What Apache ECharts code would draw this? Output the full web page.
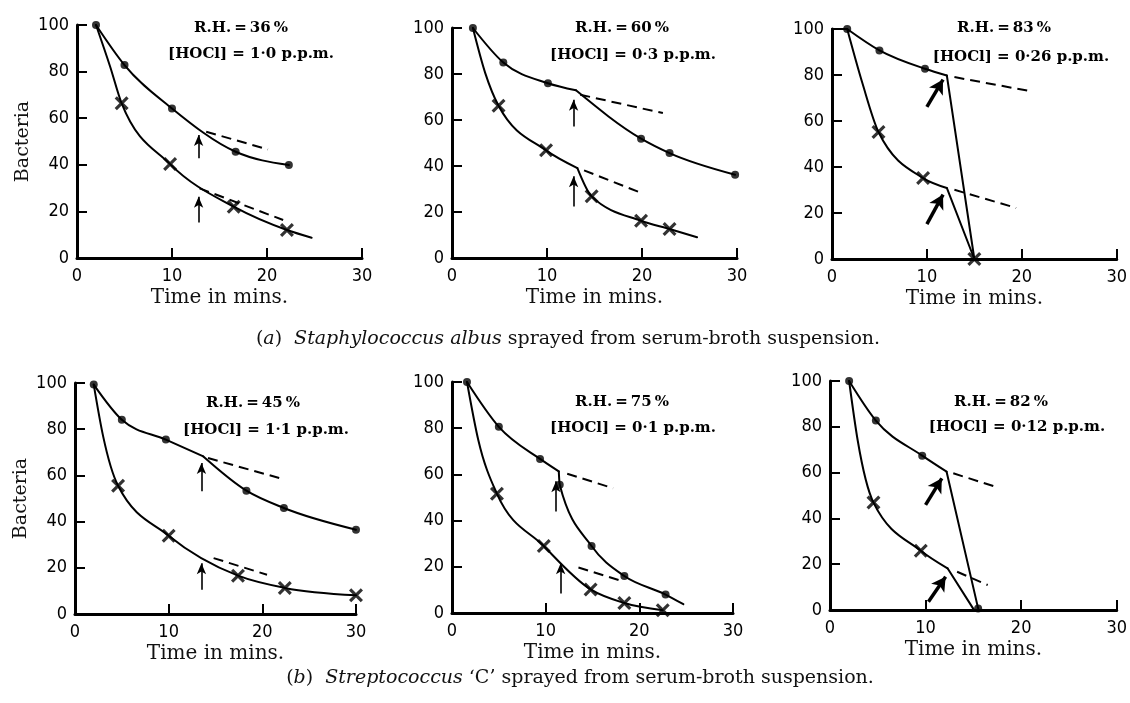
<!DOCTYPE html>
<html><head><meta charset="utf-8">
<script src="https://cdn.jsdelivr.net/npm/echarts@6/dist/echarts.min.js"></script>
<style>html,body{margin:0;padding:0;background:#fff}#c{width:1130px;height:703px}</style>
</head><body><div id="c"></div>
<script>
// ================= DATA =================
const xMin = 0, xMax = 30, xStep = 10;
const yMin = 0, yMax = 100, yStep = 20;
const xAxisTitle = 'Time in mins.';
const yAxisTitle = 'Bacteria';
const rhLabels = ['R.H.\u2009=\u200936\u2009%', 'R.H.\u2009=\u200960\u2009%', 'R.H.\u2009=\u200983\u2009%',
                  'R.H.\u2009=\u200945\u2009%', 'R.H.\u2009=\u200975\u2009%', 'R.H.\u2009=\u200982\u2009%'];
const hoclLabels = ['[HOCl] = 1·0 p.p.m.', '[HOCl] = 0·3 p.p.m.', '[HOCl] = 0·26 p.p.m.',
                    '[HOCl] = 1·1 p.p.m.', '[HOCl] = 0·1 p.p.m.', '[HOCl] = 0·12 p.p.m.'];
const captionA = ['(', 'a', ')  ', 'Staphylococcus albus', ' sprayed from serum-broth suspension.'];
const captionB = ['(', 'b', ')  ', 'Streptococcus', ' \u2018C\u2019 sprayed from serum-broth suspension.'];

// (a) R.H. 36 %
const a1Dots = [[2, 100], [5, 82.8], [10, 64.2], [16.7, 45.6], [22.3, 39.9]];
const a1DotCurves = [[[2, 100], [5, 82.8], [10, 64.2], [16.7, 45.6], [22.3, 39.9]]];
const a1Crosses = [[4.7, 66.4], [9.8, 40.3], [16.5, 22], [22.1, 12]];
const a1CrossCurves = [[[2, 100], [3.5, 82], [4.7, 66.4], [9.8, 40.3], [16.5, 22], [22.1, 12], [24.7, 8.7]]];
const a1Dashed = [[[13.6, 54.2], [20.1, 46.6]], [[12.9, 29.9], [21.7, 16.3]]];
const a1Arrows = [[[12.8, 42.8], [12.8, 52.8]], [[12.8, 15.2], [12.8, 26.3]]];

// (a) R.H. 60 %
const a2Dots = [[2.2, 100], [5.4, 85], [10.1, 76], [19.9, 51.9], [22.9, 45.6], [29.8, 36.2]];
const a2DotCurves = [[[2.2, 100], [5.4, 85], [10.1, 76], [13.05, 72.9]],
                     [[13.05, 72.9], [19.9, 51.9], [22.9, 45.6], [29.8, 36.2]]];
const a2Crosses = [[4.9, 66.2], [9.9, 46.8], [14.7, 26.8], [19.9, 16.2], [22.9, 12.6]];
const a2CrossCurves = [[[2.2, 100], [3.5, 80.4], [4.9, 66.2], [9.9, 46.8], [13.2, 39.1]],
                       [[13.2, 39.1], [14.7, 26.8], [19.9, 16.2], [22.9, 12.6], [25.8, 9]]];
const a2Dashed = [[[13.5, 71], [22.2, 63]], [[13.9, 38.1], [20.1, 28]]];
const a2Arrows = [[[12.8, 57.2], [12.8, 68.8]], [[12.8, 22.4], [12.8, 35.5]]];

// (a) R.H. 83 %
const a3Dots = [[1.6, 100], [5, 90.7], [9.8, 82.7]];
const a3DotCurves = [[[0, 100], [1.6, 100]],
                     [[1.6, 100], [5, 90.7], [9.8, 82.7], [12.1, 79.8]],
                     [[12.1, 79.8], [15, 0]]];
const a3Crosses = [[4.9, 55.2], [9.6, 35.2], [15, 0]];
const a3CrossCurves = [[[1.6, 100], [3.2, 76.5], [4.9, 55.2], [9.6, 35.2], [12.1, 30.9]],
                       [[12.1, 30.9], [15, 0]]];
const a3Dashed = [[[12.9, 79.1], [20.6, 73.2]], [[12.9, 30.1], [19.4, 22.2]]];
const a3Arrows = [[[10.0, 66.1], [11.7, 78]], [[10.0, 15.2], [11.7, 28]]];

// (b) R.H. 45 %
const b1Dots = [[2, 99.3], [5, 84.1], [9.7, 75.5], [18.3, 53.4], [22.3, 45.9], [30, 36.5]];
const b1DotCurves = [[[2, 99.3], [5, 84.1], [9.7, 75.5], [13.7, 68.2]],
                     [[13.7, 68.2], [18.3, 53.4], [22.3, 45.9], [30, 36.5]]];
const b1Crosses = [[4.6, 55.5], [10, 33.9], [17.4, 16.6], [22.4, 11.3], [30, 8.1]];
const b1CrossCurves = [[[2, 99.3], [3, 77], [4.6, 55.5], [10, 33.9], [17.4, 16.6], [22.4, 11.3], [30, 8.1]]];
const b1Dashed = [[[14.2, 67.5], [21.8, 58.9]], [[14.8, 24.2], [20.5, 17]]];
const b1Arrows = [[[13.5, 53.1], [13.5, 65.4]], [[13.5, 10.5], [13.5, 22]]];

// (b) R.H. 75 %
const b2Dots = [[1.6, 100], [5, 80.6], [9.4, 66.7], [11.5, 55.5], [14.9, 29], [18.4, 16], [22.8, 8]];
const b2DotCurves = [[[1.6, 100], [5, 80.6], [9.4, 66.7], [11.4, 61.3]],
                     [[11.4, 61.3], [11.5, 55.5], [14.9, 29], [18.4, 16], [22.8, 8], [24.7, 3.8]]];
const b2Crosses = [[4.8, 51.6], [9.8, 29], [14.8, 10.2], [18.4, 4.3], [22.5, 1.2]];
const b2CrossCurves = [[[1.6, 100], [2.8, 75], [4.8, 51.6], [9.8, 29], [14.8, 10.2], [18.4, 4.3], [22.5, 1.2]]];
const b2Dashed = [[[12.3, 60.3], [17.2, 54]], [[13.5, 19.7], [18.1, 13.9]]];
const b2Arrows = [[[11.1, 43.9], [11.1, 57]], [[11.6, 8.4], [11.6, 21.5]]];

// (b) R.H. 82 %
const b3Dots = [[2, 100], [4.8, 82.7], [9.65, 67.4], [15.5, 0.7]];
const b3DotCurves = [[[2, 100], [4.8, 82.7], [9.65, 67.4], [12.2, 60.4]],
                     [[12.2, 60.4], [15.5, 0.7]]];
const b3Crosses = [[4.55, 46.9], [9.5, 25.9]];
const b3CrossCurves = [[[2, 100], [2.9, 74], [4.55, 46.9], [9.5, 25.9], [12.3, 18.2]],
                       [[12.3, 18.2], [15, 0.5]]];
const b3Dashed = [[[12.9, 59.7], [17.1, 54.1]], [[13.3, 16.7], [16.5, 10.9]]];
const b3Arrows = [[[10.0, 45.9], [11.7, 57.5]], [[10.3, 3.6], [12.1, 14.5]]];

// ================= LAYOUT / STYLE =================
const gridBoxes = [
  {left: 77, top: 25, width: 285, height: 233},
  {left: 452, top: 28, width: 285, height: 230},
  {left: 832, top: 29, width: 290, height: 230},
  {left: 75, top: 383, width: 281, height: 231},
  {left: 452, top: 382, width: 281, height: 231},
  {left: 830, top: 381, width: 290, height: 229}
];
const rhPos = [[241, 28], [622, 28], [1004, 28], [253, 403], [622, 402], [1001, 402]];
const hoclPos = [[251, 54], [633, 55], [1021, 57], [266, 430], [633, 428], [1017, 427]];
const thickArrow = [false, false, true, false, false, true];

const panels = [
  {dots: a1Dots, dotCurves: a1DotCurves, crosses: a1Crosses, crossCurves: a1CrossCurves, dashed: a1Dashed, arrows: a1Arrows},
  {dots: a2Dots, dotCurves: a2DotCurves, crosses: a2Crosses, crossCurves: a2CrossCurves, dashed: a2Dashed, arrows: a2Arrows},
  {dots: a3Dots, dotCurves: a3DotCurves, crosses: a3Crosses, crossCurves: a3CrossCurves, dashed: a3Dashed, arrows: a3Arrows},
  {dots: b1Dots, dotCurves: b1DotCurves, crosses: b1Crosses, crossCurves: b1CrossCurves, dashed: b1Dashed, arrows: b1Arrows},
  {dots: b2Dots, dotCurves: b2DotCurves, crosses: b2Crosses, crossCurves: b2CrossCurves, dashed: b2Dashed, arrows: b2Arrows},
  {dots: b3Dots, dotCurves: b3DotCurves, crosses: b3Crosses, crossCurves: b3CrossCurves, dashed: b3Dashed, arrows: b3Arrows}
];

const SERIF = '"DejaVu Serif", "Liberation Serif", serif';
const TICKFONT = '"Liberation Sans Narrow", "DejaVu Sans Condensed", "Liberation Sans", sans-serif';
const crossPath = 'path://M1.6,0 L5,3.4 L8.4,0 L10,1.6 L6.6,5 L10,8.4 L8.4,10 L5,6.6 L1.6,10 L0,8.4 L3.4,5 L0,1.6 Z';

// Monotone cubic (in x) path through pixel points obtained from the axes
function monotonePath(pts) {
  const n = pts.length;
  if (n === 2) return 'M' + pts[0][0] + ',' + pts[0][1] + 'L' + pts[1][0] + ',' + pts[1][1];
  const sgn = v => (v < 0 ? -1 : 1);
  const t = new Array(n);
  const s = [];
  for (let k = 0; k < n - 1; k++) s.push((pts[k + 1][1] - pts[k][1]) / (pts[k + 1][0] - pts[k][0]));
  for (let k = 1; k < n - 1; k++) {
    const h0 = pts[k][0] - pts[k - 1][0], h1 = pts[k + 1][0] - pts[k][0];
    const p = (s[k - 1] * h1 + s[k] * h0) / (h0 + h1);
    t[k] = (sgn(s[k - 1]) + sgn(s[k])) * Math.min(Math.abs(s[k - 1]), Math.abs(s[k]), 0.5 * Math.abs(p)) || 0;
  }
  t[0] = (3 * s[0] - t[1]) / 2;
  t[n - 1] = (3 * s[n - 2] - t[n - 2]) / 2;
  let d = 'M' + pts[0][0] + ',' + pts[0][1];
  for (let k = 0; k < n - 1; k++) {
    const dx = (pts[k + 1][0] - pts[k][0]) / 3;
    d += 'C' + (pts[k][0] + dx) + ',' + (pts[k][1] + dx * t[k]) + ' ' +
         (pts[k + 1][0] - dx) + ',' + (pts[k + 1][1] - dx * t[k + 1]) + ' ' +
         pts[k + 1][0] + ',' + pts[k + 1][1];
  }
  return d;
}

const grids = [], xAxes = [], yAxes = [], series = [], graphics = [];

panels.forEach((p, i) => {
  grids.push(Object.assign({containLabel: false}, gridBoxes[i]));
  xAxes.push({
    type: 'value', gridIndex: i, min: xMin, max: xMax, interval: xStep,
    name: xAxisTitle, nameLocation: 'middle', nameGap: 30,
    nameTextStyle: {fontFamily: SERIF, fontSize: 20, color: '#111'},
    axisLine: {onZero: false, lineStyle: {color: '#000', width: 3}},
    axisTick: {inside: true, length: 10, lineStyle: {color: '#000', width: 2}},
    axisLabel: {margin: 9, fontFamily: TICKFONT, fontSize: 18, color: '#000'},
    splitLine: {show: false}
  });
  yAxes.push({
    type: 'value', gridIndex: i, min: yMin, max: yMax, interval: yStep,
    name: (i === 0 || i === 3) ? yAxisTitle : '', nameLocation: 'middle', nameGap: 44, nameRotate: 90,
    nameTextStyle: {fontFamily: SERIF, fontSize: 19, color: '#111'},
    axisLine: {onZero: false, lineStyle: {color: '#000', width: 3}},
    axisTick: {inside: true, length: 10, lineStyle: {color: '#000', width: 2}},
    axisLabel: {margin: 8, fontFamily: TICKFONT, fontSize: 18, color: '#000'},
    splitLine: {show: false}
  });
  const ax = {xAxisIndex: i, yAxisIndex: i};
  p.dotCurves.concat(p.crossCurves).forEach(seg => {
    series.push(Object.assign({
      type: 'custom', data: seg, silent: true, z: 3, clip: false,
      renderItem: function (params, api) {
        if (params.dataIndex !== 0) return null;
        const pts = seg.map(v => api.coord(v));
        return {type: 'path', shape: {pathData: monotonePath(pts)},
                style: {fill: 'none', stroke: '#000', lineWidth: 2, lineJoin: 'round', lineCap: 'round'}};
      }
    }, ax));
  });
  p.dashed.forEach(seg => {
    series.push(Object.assign({
      type: 'line', data: seg, showSymbol: false, symbol: 'none',
      lineStyle: {color: '#000', width: 2, type: [10, 6]}, silent: true, z: 2
    }, ax));
  });
  series.push(Object.assign({
    type: 'scatter', data: p.dots, symbol: 'circle', symbolSize: 8,
    itemStyle: {color: '#000'}, silent: true, z: 5,
    markLine: {
      silent: true, animation: false,
      symbol: ['none', 'arrow'],
      symbolSize: thickArrow[i] ? [12, 14] : [7, 11],
      label: {show: false},
      lineStyle: {color: '#000', width: thickArrow[i] ? 3.5 : 1.6, type: 'solid'},
      emphasis: {disabled: true},
      data: p.arrows.map(a => [{coord: a[0]}, {coord: a[1]}])
    }
  }, ax));
  series.push(Object.assign({
    type: 'scatter', data: p.crosses, symbol: crossPath, symbolSize: 14,
    itemStyle: {color: '#000'}, silent: true, z: 5
  }, ax));

  graphics.push({
    type: 'text', x: rhPos[i][0], y: rhPos[i][1],
    style: {text: rhLabels[i], align: 'center', verticalAlign: 'middle',
            fontFamily: SERIF, fontWeight: 'bold', fontSize: 15, fill: '#000'}
  });
  graphics.push({
    type: 'text', x: hoclPos[i][0], y: hoclPos[i][1],
    style: {text: hoclLabels[i], align: 'center', verticalAlign: 'middle',
            fontFamily: SERIF, fontWeight: 'bold', fontSize: 15, fill: '#000'}
  });
});

function captionText(parts) {
  return parts[0] + '{i|' + parts[1] + '}' + parts[2] + '{i|' + parts[3] + '}' + parts[4];
}
const capRich = {i: {fontStyle: 'italic', fontFamily: SERIF, fontSize: 19, fill: '#111'}};
graphics.push({
  type: 'text', x: 568, y: 339,
  style: {text: captionText(captionA), rich: capRich, align: 'center', verticalAlign: 'middle',
          fontFamily: SERIF, fontSize: 19, fill: '#111'}
});
graphics.push({
  type: 'text', x: 580, y: 678,
  style: {text: captionText(captionB), rich: capRich, align: 'center', verticalAlign: 'middle',
          fontFamily: SERIF, fontSize: 19, fill: '#111'}
});

const chart = echarts.init(document.getElementById('c'), null, {renderer: 'canvas'});
chart.setOption({
  backgroundColor: '#fff',
  animation: false,
  grid: grids, xAxis: xAxes, yAxis: yAxes, series: series, graphic: graphics
});
</script></body></html>
